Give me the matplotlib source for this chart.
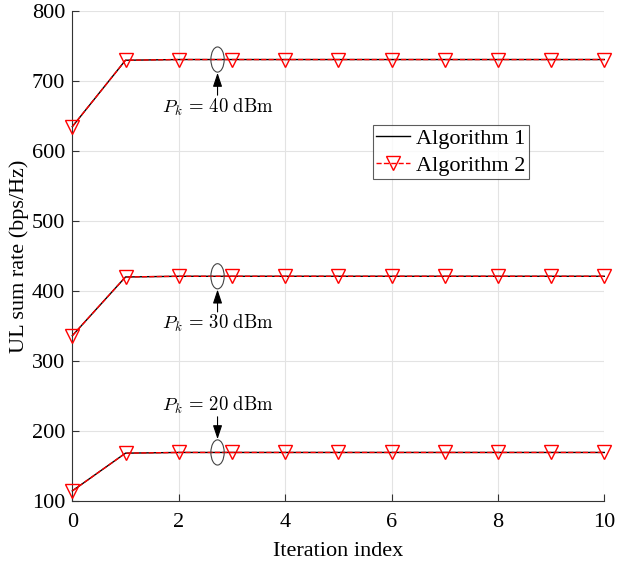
import matplotlib
matplotlib.use("Agg")
import matplotlib.pyplot as plt
from matplotlib.patches import Ellipse
import numpy as np

plt.rcParams['font.family'] = ['Liberation Serif', 'DejaVu Serif']
plt.rcParams['mathtext.fontset'] = 'cm'

iterations = list(range(11))
rate_40 = [635, 730, 731, 731, 731, 731, 731, 731, 731, 731, 731]
rate_30 = [336, 420, 421, 421, 421, 421, 421, 421, 421, 421, 421]
rate_20 = [114, 168, 169, 169, 169, 169, 169, 169, 169, 169, 169]
labels = ['Algorithm 1', 'Algorithm 2']
power_labels = [r'$P_k\,=\,40\ \mathrm{dBm}$', r'$P_k\,=\,30\ \mathrm{dBm}$', r'$P_k\,=\,20\ \mathrm{dBm}$']

W, H = 618, 563
fig = plt.figure(figsize=(W / 100, H / 100), dpi=100)
L, R, T, B = 72.3, 604.3, 11.3, 500.7
ax = fig.add_axes([L / W, 1 - B / H, (R - L) / W, (B - T) / H])

for i, r in enumerate([rate_40, rate_30, rate_20]):
    ax.plot(iterations, r, '-', color='black', lw=1.0, label=labels[0] if i == 0 else None,
            zorder=3, clip_on=False)
    ax.plot(iterations, r, '--', color='red', lw=1.0, marker='v', markersize=9.5,
            markerfacecolor='none', markeredgecolor='red', markeredgewidth=1.0,
            label=labels[1] if i == 0 else None, zorder=4, clip_on=False)

ax.set_xlim(0, 10)
ax.set_ylim(100, 800)
ax.set_xticks([0, 2, 4, 6, 8, 10])
ax.set_yticks([100, 200, 300, 400, 500, 600, 700, 800])
ax.grid(True, color='#e3e3e3', lw=0.8)
ax.set_axisbelow(True)
ax.tick_params(direction='in', labelsize=16, length=5, color='#333333', width=0.8)
ax.tick_params(axis='x', pad=9)
ax.tick_params(axis='y', pad=5)
ax.spines['top'].set_visible(False)
ax.spines['right'].set_visible(False)
for s in ['left', 'bottom']:
    ax.spines[s].set_color('#333333')
    ax.spines[s].set_linewidth(0.8)
ax.set_xlabel('Iteration index', fontsize=16, labelpad=7)
ax.set_ylabel('UL sum rate (bps/Hz)', fontsize=16, labelpad=2)

ex = 2.73
for r, txt, below in [(rate_40, power_labels[0], True), (rate_30, power_labels[1], True),
                      (rate_20, power_labels[2], False)]:
    y = r[-1]
    ax.add_patch(Ellipse((ex, y), width=0.25, height=36, fill=False, edgecolor='#444444',
                         lw=0.8, zorder=5))
    sgn = -1 if below else 1
    ax.annotate('', xy=(ex, y + sgn * 19), xytext=(ex, y + sgn * 51),
                arrowprops=dict(arrowstyle='-|>,head_length=0.6,head_width=0.2',
                                color='black', lw=0.8, mutation_scale=14, shrinkA=0, shrinkB=0))
    ax.text(ex, y + sgn * 68, txt, ha='center', va='center', fontsize=13.5)

leg = ax.legend(loc='upper left', bbox_to_anchor=((373 - L) / (R - L), (B - 125) / (B - T)),
                fontsize=16, frameon=True, fancybox=False, edgecolor='#333333',
                handlelength=1.5, borderpad=0.15, labelspacing=0.3, handletextpad=0.3,
                borderaxespad=0.0)
leg.get_frame().set_linewidth(0.8)

fig.savefig('out.png', dpi=100)
